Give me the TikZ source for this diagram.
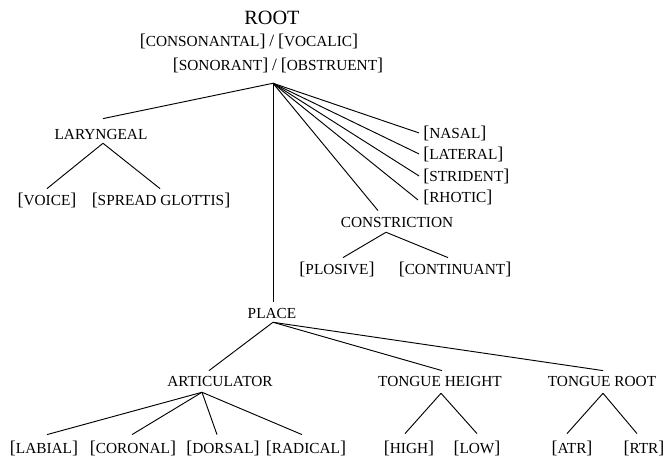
\documentclass[tikz,border=0pt]{standalone}
\usepackage{fontspec}
\setmainfont{Liberation Serif}
\usetikzlibrary{calc}
\newcommand{\obrk}{{\fontsize{13.5pt}{13pt}\selectfont[}}
\newcommand{\cbrk}{{\fontsize{13.5pt}{13pt}\selectfont]}}
\newcommand{\slsh}{{\fontsize{13pt}{13pt}\selectfont/}}
\tikzset{
  lbl/.style={font=\fontsize{11.5pt}{13pt}\selectfont, inner sep=0pt, text height=7.6pt, text depth=0pt, anchor=base},
  lblw/.style={lbl, anchor=base west},
  rootlbl/.style={font=\fontsize{15.2pt}{17pt}\selectfont, inner sep=0pt, anchor=base},
  edge/.style={line width=0.7pt, black},
}
\begin{document}
\begin{tikzpicture}[x=0.75pt,y=-0.75pt]
\useasboundingbox (0,0) rectangle (666,459);
% root stack
\node[rootlbl] (root) at (272,25) {ROOT};
\node[lbl] (cons) at (249,47) {\obrk CONSONANTAL\cbrk\ \slsh\ \obrk VOCALIC\cbrk};
\node[lbl] (son) at (278,71) {\obrk SONORANT\cbrk\ \slsh\ \obrk OBSTRUENT\cbrk};
\coordinate (rt) at ($(son.south)+(-5,12)$);
% laryngeal
\node[lbl] (lar) at (101,140) {LARYNGEAL};
\node[lbl] (voice) at (47,206) {\obrk VOICE\cbrk};
\node[lbl] (spread) at (161,206) {\obrk SPREAD GLOTTIS\cbrk};
% right column
\node[lblw] (nasal) at (423,139) {\obrk NASAL\cbrk};
\node[lblw] (lateral) at (423,160) {\obrk LATERAL\cbrk};
\node[lblw] (strident) at (423,182) {\obrk STRIDENT\cbrk};
\node[lblw] (rhotic) at (423,203) {\obrk RHOTIC\cbrk};
% constriction
\node[lbl] (constr) at (397,228) {CONSTRICTION};
\node[lbl] (plosive) at (337,274) {\obrk PLOSIVE\cbrk};
\node[lbl] (cont) at (455,274) {\obrk CONTINUANT\cbrk};
% place
\node[lbl] (place) at (272,318) {PLACE};
\node[lbl] (art) at (220,386) {ARTICULATOR};
\node[lbl] (th) at (440,386) {TONGUE HEIGHT};
\node[lbl] (tr) at (602,386) {TONGUE ROOT};
\node[lbl] (labial) at (44,453) {\obrk LABIAL\cbrk};
\node[lbl] (coronal) at (133,453) {\obrk CORONAL\cbrk};
\node[lbl] (dorsal) at (223,453) {\obrk DORSAL\cbrk};
\node[lbl] (radical) at (306,453) {\obrk RADICAL\cbrk};
\node[lbl] (high) at (409,453) {\obrk HIGH\cbrk};
\node[lbl] (low) at (477,453) {\obrk LOW\cbrk};
\node[lbl] (atr) at (572,453) {\obrk ATR\cbrk};
\node[lbl] (rtr) at (644,453) {\obrk RTR\cbrk};
% edges from root
\draw[edge] (rt) -- ($(lar.north)+(2,-11)$);
\draw[edge] (rt) -- ($(place.north)+(1,-6)$);
\draw[edge] (rt) -- ($(nasal.west)+(-4,-1)$);
\draw[edge] (rt) -- ($(lateral.west)+(-4,-1)$);
\draw[edge] (rt) -- ($(strident.west)+(-4,-1)$);
\draw[edge] (rt) -- ($(rhotic.west)+(-5,2)$);
\draw[edge] (rt) -- ($(constr.north)+(-19,-7)$);
% laryngeal
\draw[edge] ($(lar.south)+(2,3)$) -- ($(voice.north)+(0,-7)$);
\draw[edge] ($(lar.south)+(2,3)$) -- ($(spread.north)+(-1,-7)$);
% constriction
\draw[edge] ($(constr.south)+(-11,4)$) -- ($(plosive.north)+(6,-6)$);
\draw[edge] ($(constr.south)+(-11,4)$) -- ($(cont.north)+(-7,-6)$);
% place
\draw[edge] ($(place.south)+(1,4)$) -- ($(art.north)+(-11,-5)$);
\draw[edge] ($(place.south)+(1,4)$) -- ($(th.north)+(2,-5)$);
\draw[edge] ($(place.south)+(1,4)$) -- ($(tr.north)+(1,-5)$);
% articulator
\draw[edge] ($(art.south)+(-18,6)$) -- ($(labial.north)+(3,-8)$);
\draw[edge] ($(art.south)+(-18,6)$) -- ($(coronal.north)+(-1,-8)$);
\draw[edge] ($(art.south)+(-18,6)$) -- ($(dorsal.north)+(-6,-8)$);
\draw[edge] ($(art.south)+(-18,6)$) -- ($(radical.north)+(-4,-8)$);
% tongue height
\draw[edge] ($(th.south)+(1,7)$) -- ($(high.north)+(-4,-9)$);
\draw[edge] ($(th.south)+(1,7)$) -- ($(low.north)+(0,-9)$);
% tongue root
\draw[edge] ($(tr.south)+(1,7)$) -- ($(atr.north)+(-5,-9)$);
\draw[edge] ($(tr.south)+(1,7)$) -- ($(rtr.north)+(-7,-9)$);
\end{tikzpicture}
\end{document}
